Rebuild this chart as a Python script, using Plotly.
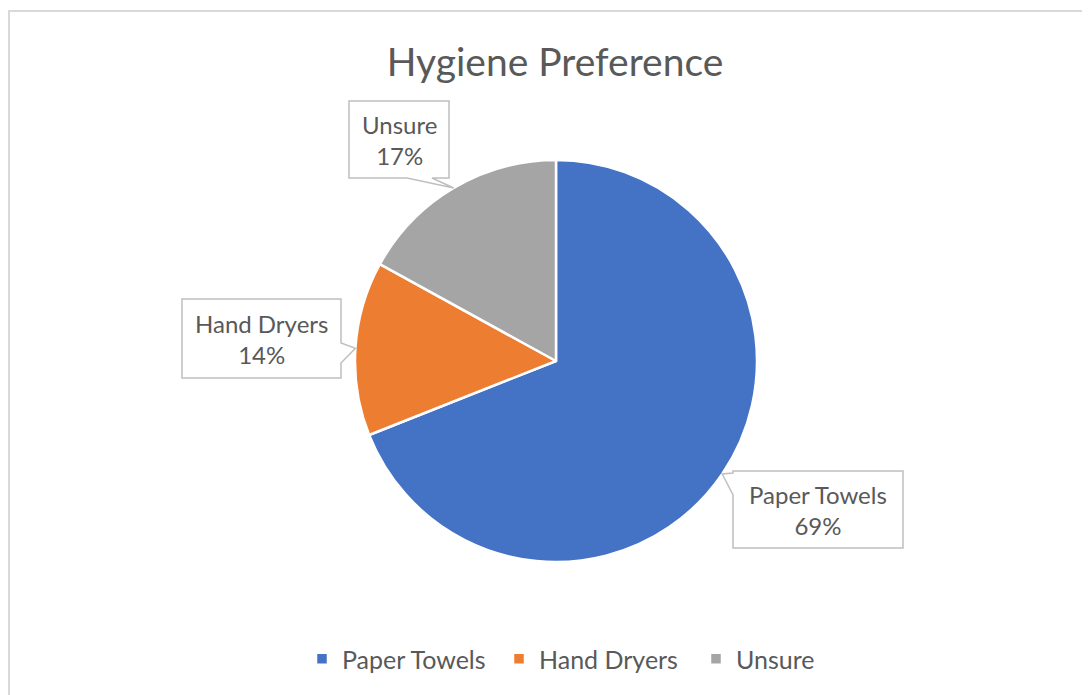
import math
import plotly.graph_objects as go

# Data
categories = ["Paper Towels", "Hand Dryers", "Unsure"]
values = [69, 14, 17]
colors = ["#4472C4", "#ED7D31", "#A5A5A5"]
title_text = "Hygiene Preference"

W, H = 1090, 695
OFF = 8  # page body margin in the browser
cx, cy, R = 556, 361, 201  # pie centre / radius in page pixels

FONT = "Lato, Carlito, Calibri, sans-serif"
GRAY = "#595959"


def px(x):
    return (x - OFF) / W


def py(y):
    return 1 - (y - OFF) / H


fig = go.Figure(go.Pie(
    labels=categories,
    values=values,
    sort=False,
    direction="clockwise",
    rotation=0,
    textinfo="none",
    hoverinfo="label+percent",
    marker=dict(colors=colors, line=dict(color="white", width=2.5)),
    domain=dict(x=[px(cx - R), px(cx + R)], y=[py(cy + R), py(cy - R)]),
))

# callout boxes (page pixels): x0, y0, x1, y1, side of wedge, wedge base range
boxes = {
    "Paper Towels": (733, 471, 903, 548, "left", (473, 495)),
    "Hand Dryers": (182, 299, 341, 378, "right", (343, 363)),
    "Unsure": (349, 101, 449, 178, "bottom", (407, 432)),
}

total = sum(values)
cum = 0
annotations = []
shapes = [dict(type="rect", xref="paper", yref="paper",
               x0=px(9), y0=-0.2, x1=1.2, y1=py(11),
               line=dict(color="#D9D9D9", width=2), layer="below")]
for cat, v in zip(categories, values):
    mid = (cum + v / 2) / total * 360
    cum += v
    tx = cx + R * math.sin(math.radians(mid))
    ty = cy - R * math.cos(math.radians(mid))
    x0, y0, x1, y1, side, (b1, b2) = boxes[cat]
    if side == "bottom":
        pts = [(x0, y0), (x1, y0), (x1, y1), (b2, y1), (tx, ty), (b1, y1), (x0, y1)]
    elif side == "right":
        pts = [(x0, y0), (x1, y0), (x1, b1), (tx, ty), (x1, b2), (x1, y1), (x0, y1)]
    else:
        pts = [(x0, y0), (x1, y0), (x1, y1), (x0, y1), (x0, b2), (tx, ty), (x0, b1)]
    path = "M " + " L ".join(f"{px(a):.5f},{py(b):.5f}" for a, b in pts) + " Z"
    shapes.append(dict(type="path", xref="paper", yref="paper", path=path,
                       fillcolor="white", line=dict(color="#BFBFBF", width=1.5), layer="above"))
    pct = round(v / total * 100)
    annotations.append(dict(
        x=px((x0 + x1) / 2), y=py((y0 + y1) / 2), xref="paper", yref="paper",
        xanchor="center", yanchor="middle",
        text=f"{cat}<br>{pct}%", showarrow=False,
        font=dict(family=FONT, size=24, color=GRAY), align="center",
    ))

fig.update_layout(
    width=W, height=H,
    margin=dict(l=0, r=0, t=0, b=0),
    paper_bgcolor="white",
    title=dict(text=title_text, x=px(555), xanchor="center", y=py(62), yanchor="middle",
               font=dict(family=FONT, size=39, color=GRAY)),
    showlegend=True,
    legend=dict(orientation="h", x=px(302), xanchor="left", y=py(659), yanchor="middle",
                font=dict(family=FONT, size=25, color=GRAY), itemwidth=30,
                entrywidth=152, entrywidthmode="pixels",
                traceorder="normal"),
    annotations=annotations,
    shapes=shapes,
)

fig.write_html("out.html")
